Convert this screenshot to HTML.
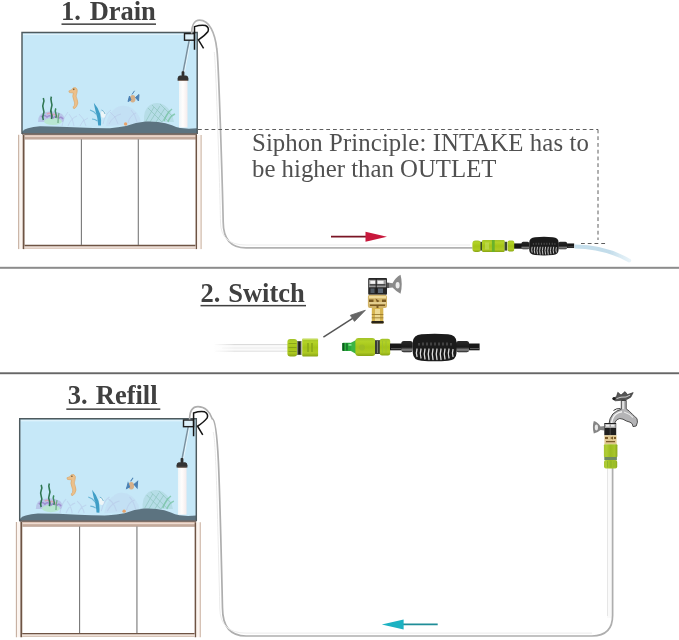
<!DOCTYPE html>
<html><head><meta charset="utf-8">
<style>
html,body{margin:0;padding:0;background:#fff;width:679px;height:640px;overflow:hidden}
svg{position:absolute;left:0;top:0;display:block;will-change:transform;filter:blur(0.3px)}
.t{font-family:"Liberation Serif",serif;font-weight:bold;fill:#404040}
.s{font-family:"Liberation Serif",serif;fill:#505050}
</style></head><body>
<svg width="679" height="640" viewBox="0 0 679 640">
<defs>
 <linearGradient id="tube" x1="0" x2="1" y1="0" y2="0">
  <stop offset="0" stop-color="#eef5f8"/><stop offset="0.45" stop-color="#fffdfc"/><stop offset="1" stop-color="#f4ecec"/>
 </linearGradient>
 <g id="tank">
  <!-- water -->
  <rect x="22" y="32.5" width="175" height="101" fill="#c6e8f8"/>
  <line x1="23" y1="34.3" x2="196" y2="34.3" stroke="#e6f6fd" stroke-width="1"/>
  <!-- decorations -->
  <g>
   <path d="M144,122 Q143,110 150,105 Q157,101 164,105 Q172,110 174,122 Z" fill="#a6d2d6" opacity="0.5"/>
   <path d="M146,121 l8,-14 M150,122 l10,-16 M156,122 l9,-14 M162,122 l7,-11 M148,108 l14,14 M152,105 l16,16 M160,104 l12,12" stroke="#8cc4bc" stroke-width="0.9" fill="none" opacity="0.75"/>
   <path d="M164,121 q3,-8 8,-12 M168,122 q2,-6 7,-8" stroke="#78c4a4" stroke-width="1.4" fill="none" opacity="0.8"/>
   <path d="M106,126 Q108,110 120,106 Q133,104 140,118 L141,124 Z" fill="#b9c6e6" opacity="0.22"/>
   <path d="M103,124 q2,-10 8,-14 M109,124 q4,-8 12,-10 M118,124 q-2,-8 -8,-12 M128,123 q2,-8 8,-10 M137,122 q-2,-8 -6,-12" stroke="#b5c4e6" stroke-width="1" fill="none" opacity="0.5"/>
   <path d="M62,126 q1,-9 6,-14 M68,126 q3,-8 9,-10 M74,126 q-1,-8 -5,-12 M80,126 q2,-6 8,-8 M86,126 q-2,-8 -7,-12" stroke="#b5c4e6" stroke-width="1" fill="none" opacity="0.5"/>
   <path d="M38,122 Q38,113 46,112 Q55,110 62,114 Q66,118 63,122 Z" fill="#b0b4e0" opacity="0.65"/>
   <ellipse cx="53" cy="121.5" rx="9" ry="3.5" fill="#b8e6d2"/>
   <path d="M41,117 q3,-3 6,0 q3,-3 6,1 q3,-3 6,0 q2,-2 4,1" stroke="#9f8fd0" stroke-width="1.6" fill="none"/>
   <path d="M47,114 q3,-2 5,1 q3,-2 6,2" stroke="#d8a6bc" stroke-width="1.6" fill="none"/>
   <path d="M43.3,120 q-1.2,-2.7 0,-5.5 q1.2,-2.7 0,-5.5 q-1.2,-2.7 0,-5.5 q1.2,-2.7 0,-5.5" stroke="#2f7652" stroke-width="1.6" fill="none"/>
   <path d="M51.4,119 q1.2,-2.8 0,-5.6 q-1.2,-2.8 0,-5.6 q1.2,-2.8 0,-5.6 q-1.2,-2.8 0,-5.6" stroke="#2f7652" stroke-width="1.6" fill="none"/>
   <path d="M55.8,118 q1,-2.4 0,-4.8 q-1,-2.4 0,-4.8" stroke="#3b8a5c" stroke-width="1.5" fill="none"/>
   <path d="M58,123 q0,-6 1,-10" stroke="#6aa882" stroke-width="1.2" fill="none"/>
   <!-- seahorse -->
   <g transform="translate(74,99) scale(1.15) translate(-74,-99)">
   <path d="M69.5,92 L72,91 Q73,88.5 75.5,89.2 Q77.5,90.5 76.6,93.5 Q75,96.5 76.8,99.5 Q78.2,102.5 76.2,105.6 Q74.5,108.2 73.4,107 Q72.8,105.6 74.3,104.6 Q75,102.5 73.8,100 Q72.2,96.5 73.5,93.8 L70,93.4 Z" fill="#ecc08a" stroke="#d8a060" stroke-width="0.5"/>
   <circle cx="73.8" cy="90.6" r="0.7" fill="#6a5a40"/>
   </g>
   <!-- shark -->
   <path d="M93.8,102.7 Q98.5,108 100.2,114 Q101.6,120 101,125.6 L98.2,125.4 Q97.8,118 95.8,112 Q94.6,107.5 93.8,102.7 Z" fill="#3f9ec6"/>
   <path d="M90,110 Q94,111 97,115 M92,119 Q95,119 97.5,121" stroke="#6ab6d6" stroke-width="1.2" fill="none"/>
   <ellipse cx="103.3" cy="114.2" rx="2.3" ry="3.6" fill="#eef6f8"/>
   <path d="M101.5,110 q3,1 3.5,4" stroke="#5aa8c8" stroke-width="0.8" fill="none"/>
   <!-- small fish -->
   <ellipse cx="132.7" cy="98.8" rx="2.8" ry="3.8" fill="#d6b08a"/>
   <path d="M129.5,96 L128,101.5 L131,100 Z M135.5,97.5 L139,94.5 L138.5,101 Z M132,94.5 L134.5,90.8" stroke="#4a80b4" stroke-width="1" fill="#4a80b4"/>
   <circle cx="125.6" cy="124" r="1.7" fill="#e8a46c"/>
  </g>
  <!-- gravel -->
  <path d="M22,132 Q24,129 28,128.3 Q33,126.6 40,126.3 L60,126.7 L80,127.6 Q95,128.3 110,128.2 Q118,127.6 126,126 Q136,122 145.6,121.5 Q152,121.2 158,122 Q166,123 172,125.3 Q176,127.3 180.5,128.1 L189,128.8 L197,128.3 L197,133.8 L22,133.8 Z" fill="#5c7380"/>
  <!-- siphon tube -->
  <rect x="179" y="80.5" width="8.5" height="47" fill="url(#tube)"/>
  <line x1="183.6" y1="72" x2="190" y2="38.5" stroke="#e8f6fc" stroke-width="2.6"/><line x1="183.1" y1="72" x2="189.5" y2="38.5" stroke="#7890a0" stroke-width="1.5"/>
  <rect x="181.6" y="71.2" width="2.8" height="5" rx="0.8" fill="#2e2e2e"/>
  <path d="M179.8,75.6 L186.2,75.6 Q188.4,76.2 188.4,78.6 L188.4,80.8 L177.6,80.8 L177.6,78.6 Q177.6,76.2 179.8,75.6 Z" fill="#333"/>
  <rect x="178.5" y="80" width="9" height="1" fill="#7a6a60"/>
  <!-- tank border -->
  <path d="M22,134 L22,32.4 L197.2,32.4 L197.2,134" fill="none" stroke="#4e5a5e" stroke-width="1.45"/>
  <!-- clip -->
  <rect x="184.5" y="33.6" width="10" height="6.6" fill="#dff1fa" stroke="#202020" stroke-width="1.4"/>
  <path d="M194.5,49.8 L194.5,26.6 Q201,24.6 205.5,25.5 Q209.5,27.5 208,31.5 Q205,35.5 198.4,39.8 L203.6,48.4" fill="none" stroke="#151515" stroke-width="1.5"/>
  <!-- cabinet -->
  <rect x="24" y="133.6" width="173" height="5.7" fill="#dcc2b4"/>
  <line x1="22" y1="134" x2="197" y2="134" stroke="#5e5450" stroke-width="1.3"/>
  <line x1="24" y1="136.2" x2="197" y2="136.2" stroke="#eedcd2" stroke-width="1"/><line x1="24" y1="137.8" x2="197" y2="137.8" stroke="#b49a8a" stroke-width="0.8"/>
  <line x1="24" y1="139" x2="197" y2="139" stroke="#a08878" stroke-width="0.6"/>
  <rect x="18.2" y="134.8" width="6.6" height="114.3" fill="#fcf5f0"/>
  <line x1="18.7" y1="134.8" x2="18.7" y2="249.1" stroke="#c0a898" stroke-width="1"/>
  <line x1="23.6" y1="134.8" x2="23.6" y2="249.1" stroke="#6e5444" stroke-width="1.8"/>
  <rect x="195.8" y="135" width="5.8" height="114.1" fill="#fcf5f0"/>
  <line x1="196.3" y1="135" x2="196.3" y2="249.1" stroke="#6e5444" stroke-width="1.5"/>
  <line x1="201.1" y1="135" x2="201.1" y2="249.1" stroke="#c8b0a0" stroke-width="1"/>
  <rect x="24.5" y="245.2" width="171" height="3.4" fill="#f2e4dc"/>
  <line x1="24.5" y1="245.5" x2="195.5" y2="245.5" stroke="#6e5444" stroke-width="1.3"/>
  <line x1="24.5" y1="248.3" x2="195.5" y2="248.3" stroke="#c8b0a0" stroke-width="0.7"/>
  <line x1="81.4" y1="139.3" x2="81.4" y2="245" stroke="#787878" stroke-width="1.1"/>
  <line x1="138.3" y1="139.3" x2="138.3" y2="245" stroke="#787878" stroke-width="1.1"/>
 </g>

 <linearGradient id="limeV" x1="0" x2="0" y1="0" y2="1">
  <stop offset="0" stop-color="#a2c22a"/><stop offset="0.2" stop-color="#b2d226"/><stop offset="0.5" stop-color="#a4c418"/><stop offset="0.8" stop-color="#aeca22"/><stop offset="1" stop-color="#88a414"/>
 </linearGradient>
 <linearGradient id="limeH" x1="0" x2="1" y1="0" y2="0">
  <stop offset="0" stop-color="#a8c434"/><stop offset="0.2" stop-color="#b0cd34"/><stop offset="0.5" stop-color="#9cbc20"/><stop offset="0.8" stop-color="#a8c62a"/><stop offset="1" stop-color="#8aa61c"/>
 </linearGradient>
 <linearGradient id="blkV" x1="0" x2="0" y1="0" y2="1">
  <stop offset="0" stop-color="#2a2a2a"/><stop offset="0.55" stop-color="#1a1a1a"/><stop offset="0.8" stop-color="#8a8a8a"/><stop offset="1" stop-color="#1a1a1a"/>
 </linearGradient>
 <g id="bulb">
  <rect x="401.3" y="341" width="11.5" height="11.2" rx="2.5" fill="url(#blkV)"/>
  <rect x="456" y="341" width="13.1" height="11.2" rx="2.5" fill="url(#blkV)"/>
  <rect x="469" y="343.5" width="10.6" height="6.8" fill="#181818"/>
  <line x1="470" y1="348.6" x2="479" y2="348.6" stroke="#777" stroke-width="0.8"/>
  <path d="M412.8,342 Q413.2,334.8 421.5,334.2 Q434.8,333.2 448,334.2 Q456.3,334.8 456.5,342 L456.5,353 Q456.3,360.2 448,360.8 Q434.8,361.8 421.5,360.8 Q413.2,360.2 412.8,353 Z" fill="#1b1b1b"/>
  <g stroke="#dcdcdc" stroke-width="1.3" fill="none" stroke-linecap="round">
   <path d="M417,349 q-1.2,4 0,7.5"/><path d="M421,349 q-1.4,4.5 0,9"/><path d="M425,349 q-1.5,5 0,10"/><path d="M429,349 q-1.5,5 0,10.5"/><path d="M433,349 q-1.5,5 0,10.5"/><path d="M437,349 q-1.5,5 0,10.5"/><path d="M441,349 q-1.5,5 0,10.5"/><path d="M445,349 q-1.5,5 0,10"/><path d="M449,349 q-1.4,4.5 0,9"/><path d="M453,349.5 q-1.2,4 0,7"/>
  </g>
  <g stroke="#6a6a6a" stroke-width="1" fill="none">
   <path d="M419,343 v2.5 M423,342.5 v3 M427,342.5 v3 M431,342.5 v3 M435,342.5 v3 M439,342.5 v3 M443,342.5 v3 M447,342.5 v3 M451,343 v2.5"/>
  </g>
 </g>
</defs>

<!-- ============ SECTION 1 ============ -->
<text class="t" x="61" y="20.3" font-size="26.5" word-spacing="2.6" letter-spacing="-0.1">1. Drain</text>
<rect x="61.5" y="23.4" width="94.5" height="1.5" fill="#404040"/>
<use href="#tank"/>
<!-- hose -->
<path d="M191.7,33.5 C191.7,25 194.5,20.2 199.5,20.2 C209.5,20.2 215,33 216.8,49 C218.6,59 222.5,188 223.2,222 Q223.3,247.9 246,247.9 L472.5,247.9" fill="none" stroke="#b2b2b2" stroke-width="1.7"/>
<path d="M214.2,52 C216,62 219.8,188 220.5,222 Q220.6,245 246,245 L470,245" fill="none" stroke="#ebebeb" stroke-width="1"/>
<!-- dashed -->
<path d="M198,129.5 L598,129.5 M598,129.5 L598,240 M581,243.5 L607,243.5" fill="none" stroke="#5e5e5e" stroke-width="1" stroke-dasharray="3.8,2.95"/>
<text class="s" x="252" y="150.7" font-size="24.8" letter-spacing="0.09">Siphon Principle: INTAKE has to</text>
<text class="s" x="252" y="176.6" font-size="24.8" letter-spacing="0">be higher than OUTLET</text>
<!-- red arrow -->
<line x1="331" y1="236.7" x2="367" y2="236.7" stroke="#7a1424" stroke-width="1.8"/>
<path d="M365.5,231.8 L387,236.7 L365.5,241.8 Z" fill="#c8183c"/>
<!-- connector -->
<rect x="514" y="243.4" width="12" height="5.3" fill="#161616"/>
<rect x="472.4" y="240.4" width="8.6" height="11.5" rx="3.2" fill="url(#limeV)"/>
<rect x="480.5" y="241.8" width="2" height="8.8" fill="#3c4a2a"/>
<rect x="482" y="240" width="22.7" height="11.9" rx="1.2" fill="url(#limeV)"/>
<rect x="491.9" y="240" width="2.8" height="11.9" fill="#69b22c"/>
<rect x="485" y="242.5" width="4" height="7" fill="#c4e060" opacity="0.6"/>
<rect x="504.6" y="241.8" width="2.6" height="8.8" fill="#3a4530"/>
<rect x="507.6" y="240.4" width="6.6" height="11.2" rx="1.8" fill="url(#limeV)"/>
<!-- bulb 1 -->
<use href="#bulb" transform="translate(251.4,12.28) scale(0.673)"/>
<!-- stream -->
<defs><linearGradient id="strm" x1="575" x2="632" y1="0" y2="0" gradientUnits="userSpaceOnUse"><stop offset="0" stop-color="#c6dfec"/><stop offset="0.6" stop-color="#c2dcea"/><stop offset="1" stop-color="#d6eaf4" stop-opacity="0.5"/></linearGradient></defs>
<path d="M574.5,244.6 Q606,244.5 631,259.5 Q632,262.5 629,262.5 Q604,248.5 574.5,248.4 Z" fill="url(#strm)"/>
<!-- separator -->
<rect x="0" y="266.8" width="679" height="2" fill="#8c8c8c"/>

<!-- ============ SECTION 2 ============ -->
<text class="t" x="200.5" y="302.2" font-size="26.5" word-spacing="1.2">2. Switch</text>
<rect x="200.5" y="304.9" width="105.5" height="1.5" fill="#404040"/>
<!-- tube -->
<defs><linearGradient id="fade" x1="0" x2="1"><stop offset="0" stop-color="#fff" stop-opacity="1"/><stop offset="1" stop-color="#fff" stop-opacity="0"/></linearGradient></defs>
<rect x="215" y="344" width="73" height="7.5" fill="#fafafa"/>
<line x1="215" y1="344.6" x2="288" y2="344.6" stroke="#d8d8d8" stroke-width="1"/>
<line x1="215" y1="351.2" x2="288" y2="351.2" stroke="#e0e0e0" stroke-width="1"/>
<line x1="222" y1="348" x2="288" y2="348" stroke="#ececec" stroke-width="1"/>
<rect x="213" y="342" width="22" height="12" fill="url(#fade)"/>
<rect x="287.4" y="339.1" width="9.8" height="17.3" rx="3" fill="url(#limeV)"/>
<path d="M288.5,343.5 h8 M288.5,347.5 h8 M288.5,351.5 h8" stroke="#7f9c18" stroke-width="0.8"/>
<rect x="297" y="341" width="4.6" height="14" fill="#7c8270"/>
<rect x="298.2" y="341.5" width="2.4" height="13" fill="#1c1c1c"/>
<rect x="302.2" y="338.7" width="15.9" height="17.7" rx="1" fill="url(#limeV)"/>
<rect x="302.2" y="338.7" width="15.9" height="1.2" fill="#c8de60"/>
<rect x="307" y="343" width="2" height="9" fill="#8aa818" opacity="0.8"/>
<rect x="311" y="343" width="2" height="9" fill="#8aa818" opacity="0.8"/>
<!-- gray arrow -->
<line x1="323.4" y1="337.1" x2="353" y2="318.2" stroke="#555" stroke-width="1.5"/>
<path d="M365.4,310.2 L350.3,315.3 L354.5,321.4 Z" fill="#666" stroke="#666" stroke-width="0.8" stroke-linejoin="round"/>
<!-- brass adapter -->
<path d="M386.5,282.3 L392.5,283.2 Q395.5,277.5 400.5,274.8 Q403,284 400.5,293.7 Q395.5,291 392.5,287.6 L386.5,288.3 Z" fill="#8a8a8a"/>
<ellipse cx="397.6" cy="285.3" rx="2" ry="3.3" fill="#ececec"/>
<line x1="388" y1="283" x2="388" y2="288" stroke="#333" stroke-width="1.2"/>
<rect x="368.2" y="277.9" width="18.8" height="16.8" rx="1" fill="#262626"/>
<rect x="369" y="279.8" width="17.2" height="7.5" fill="#9a9a9a"/>
<rect x="370.3" y="280.8" width="5" height="3" fill="#f4f4f4"/>
<rect x="377.6" y="280.8" width="6" height="3" fill="#f4f4f4"/>
<rect x="369.5" y="284.2" width="16" height="1.3" fill="#3a3a3a"/>
<rect x="370.5" y="288.5" width="4" height="4.5" fill="#5a6672" opacity="0.8"/>
<rect x="378" y="288.5" width="5" height="4.5" fill="#6a7888" opacity="0.8"/>
<line x1="376.2" y1="279" x2="376.2" y2="294" stroke="#1a1a1a" stroke-width="1"/>
<rect x="367.9" y="294.8" width="19.1" height="13.2" rx="2" fill="#d2b468"/>
<rect x="369" y="296" width="17" height="2.2" fill="#f0dc9c"/>
<path d="M369,299.5 h4.5 v2.5 h-4.5z M375.5,298.5 l4,2.5 l-2.5,1.8z M382,299.5 h4 v2.5 h-4z M370,304.5 h15 v1.5 h-15z M376.5,306 h2 v2 h-2z" fill="#7a5a22"/>
<rect x="369" y="302.2" width="17" height="1.6" fill="#e8d49a"/>
<rect x="371.8" y="308" width="11.5" height="15.4" fill="#d6b450"/>
<rect x="375" y="309" width="5" height="12" fill="#f2e2a4" opacity="0.8"/>
<path d="M371.8,314.5 h11.5 M371.8,317.8 h11.5" stroke="#9a7a30" stroke-width="0.9"/>
<rect x="371.3" y="321" width="12.5" height="2.6" rx="1" fill="#2a2418"/>
<!-- lime adapter -->
<path d="M350,343.2 L357,339.5 L357,354.5 L350,350.6 Z" fill="#3cb444"/>
<rect x="342.2" y="342.8" width="9" height="8.2" rx="1.2" fill="#2aae3c"/>
<rect x="342.4" y="343" width="2" height="7.8" fill="#0e5a20"/>
<rect x="346.2" y="343.2" width="1.5" height="7.4" fill="#14702a"/>
<rect x="348.5" y="344" width="3" height="1.8" fill="#80e090"/>
<rect x="355.4" y="338" width="19.9" height="18" rx="3.2" fill="url(#limeV)"/>
<ellipse cx="362" cy="347.5" rx="3" ry="3" fill="#9bbb28" opacity="0.7"/>
<rect x="375" y="340.2" width="5" height="13.8" fill="#3a3d36"/>
<line x1="377.5" y1="341" x2="377.5" y2="353" stroke="#8b8f85" stroke-width="0.8"/>
<rect x="379.8" y="338.8" width="10.4" height="16.6" rx="2.2" fill="url(#limeV)"/>
<path d="M382.5,341 v12 M386,341 v12" stroke="#9cc030" stroke-width="0.8"/>
<!-- bulb 2 -->
<rect x="390" y="343.5" width="12" height="6.8" fill="#181818"/>
<line x1="391" y1="348.7" x2="401" y2="348.7" stroke="#777" stroke-width="0.8"/>
<use href="#bulb"/>
<rect x="0" y="372.3" width="679" height="1.9" fill="#666"/>

<!-- ============ SECTION 3 ============ -->
<text class="t" x="67.7" y="403.6" font-size="26.5" word-spacing="1.6">3. Refill</text>
<rect x="66.3" y="408.4" width="94" height="1.5" fill="#404040"/>
<use href="#tank" transform="translate(-2.47,386.14) scale(1.008)"/>
<rect x="607" y="468" width="6" height="150" fill="#fafafa"/>
<line x1="607.5" y1="468" x2="607.5" y2="616" stroke="#e6e6e6" stroke-width="1"/>
<path d="M189.6,419.5 C189.6,411 193,406.6 198,406.6 C205,406.6 210,412 212.2,418.7 C218.5,420 219.5,480 222.5,608 Q222.6,636 246,636 L592,636 Q612.6,636 612.6,615.6 L612.6,468" fill="none" stroke="#aeaeae" stroke-width="1.7"/>
<path d="M213.2,432 C215.5,440 216.8,480 219.8,608 Q219.9,633.1 246,633.1 L592,633.1" fill="none" stroke="#ebebeb" stroke-width="1"/>
<!-- teal arrow -->
<line x1="402" y1="624.4" x2="437.7" y2="624.4" stroke="#1f8d98" stroke-width="1.8"/>
<path d="M381.8,624.4 L403.6,619.4 L403.6,629.4 Z" fill="#1cb2c2"/>
<!-- faucet -->
<!-- pipe + body -->
<path d="M608.8,425 Q609.3,418 612.8,414 Q616.8,410.3 621.3,409.3 L621.3,400.5 L626.2,400.5 L626.2,408.8 Q629.5,411 632.3,414.2 Q635,416.8 637,418.6 Q638.3,422 636.2,426 L633,426.6 Q633,423.2 630,422.2 Q626,421.2 623,419.2 Q619.5,417.6 617,419.6 Q614.8,421.8 614.2,425 Z" fill="#b4b4b6" stroke="#3c3c3c" stroke-width="0.9" stroke-linejoin="round"/>
<path d="M611.5,424 Q612,418 615.5,414.5 Q618.5,412.2 622,411.8" fill="none" stroke="#f2f2f2" stroke-width="1.4"/>
<path d="M624,412 Q629,413.5 633,417.5" fill="none" stroke="#e8e8e8" stroke-width="1.2"/>
<path d="M613.5,410.5 Q616,408.2 620.5,408.6" fill="none" stroke="#333" stroke-width="1"/>
<rect x="622.3" y="401" width="1.6" height="8" fill="#e6e6e6"/>
<path d="M612.7,398.8 L616.5,396.5 L617.8,392.3 L621,395 L625,391.6 L627.5,394.6 L633.2,392.6 L630.8,397.2 L626.2,399.8 L620,400.4 L615.2,400.8 Z" fill="#575757" stroke="#2a2a2a" stroke-width="0.6"/>
<path d="M616.5,398.6 L621,397.2 L626,397 L630,395.2" fill="none" stroke="#d8d8d8" stroke-width="0.9"/>
<circle cx="614" cy="398.6" r="1.6" fill="#1e1e1e"/>
<!-- wing -->
<path d="M604.5,426 L600.5,426.6 Q598,422 593.8,421 Q592,427 593.8,433.6 Q598,432.5 600.5,430 L604.5,430.5 Z" fill="#858585"/>
<ellipse cx="596.4" cy="427.4" rx="1.6" ry="3" fill="#e8e8e8"/>
<!-- collar -->
<rect x="604.3" y="423" width="11.9" height="12.3" fill="#202020"/>
<rect x="604.8" y="424" width="11" height="4" fill="#a8a8a8"/>
<rect x="606" y="424.6" width="3.5" height="2" fill="#eee"/>
<rect x="611" y="424.6" width="3.5" height="2" fill="#eee"/>
<line x1="610.2" y1="428" x2="610.2" y2="435" stroke="#4a4a4a" stroke-width="1"/>
<!-- brass -->
<rect x="604.4" y="435.3" width="12.2" height="8.9" fill="#e0c890"/>
<path d="M605,437 h3 v2 h-3z M610,438 l3,-1.5 l0,3z M614,437 h2 v2 h-2z M606,441 h9 v1.2 h-9z" fill="#7a5a28"/>
<!-- lime -->
<rect x="603.9" y="444.2" width="13.5" height="13" rx="1" fill="url(#limeH)"/>
<rect x="604.3" y="457" width="12.6" height="3" fill="#6f8a64"/>
<rect x="604" y="460" width="13.2" height="8.6" rx="2" fill="url(#limeH)"/>
<path d="M607.5,461 v6.5 M611,461 v6.5 M614,461 v6.5" stroke="#86b22c" stroke-width="0.8"/>
</svg>
</body></html>
